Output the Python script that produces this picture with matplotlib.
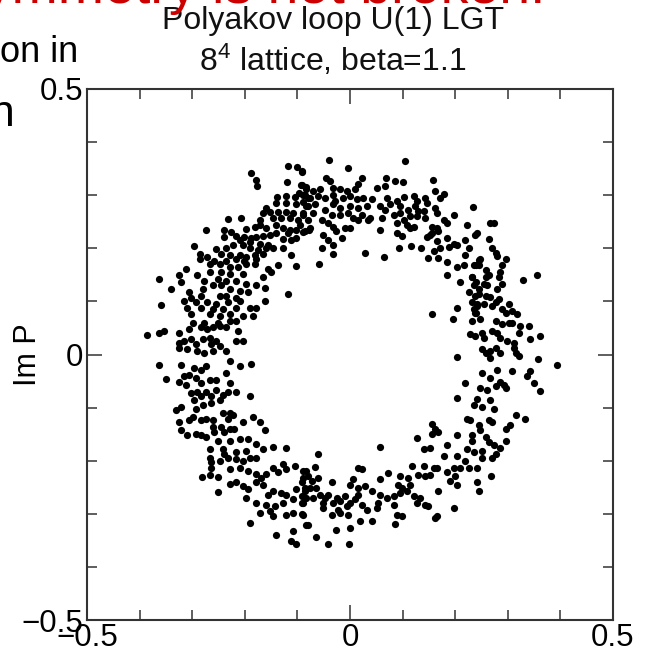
import numpy as np
import matplotlib
matplotlib.use("Agg")
import matplotlib.pyplot as plt

plt.rcParams['font.family'] = ['Liberation Sans', 'DejaVu Sans']
plt.rcParams['mathtext.fontset'] = 'custom'
plt.rcParams['mathtext.rm'] = 'Liberation Sans'
plt.rcParams['mathtext.it'] = 'Liberation Sans:italic'

# ---- data: (Re P, Im P) samples ----
ring_upper_left = [
    (-0.189,0.342),(-0.117,0.355),(-0.100,0.354),(-0.091,0.344),(-0.178,0.328),(-0.176,0.318),
    (-0.120,0.324),(-0.094,0.319),(-0.083,0.315),(-0.097,0.304),(-0.086,0.301),(-0.080,0.295),
    (-0.139,0.296),(-0.122,0.298),(-0.104,0.296),(-0.089,0.288),(-0.140,0.285),(-0.121,0.285),
    (-0.102,0.283),(-0.080,0.279),(-0.159,0.276),(-0.153,0.269),(-0.166,0.266),(-0.137,0.269),
    (-0.121,0.269),(-0.108,0.266),(-0.089,0.266),(-0.232,0.255),(-0.207,0.257),(-0.172,0.253),
    (-0.147,0.257),(-0.131,0.257),(-0.115,0.257),(-0.099,0.253),(-0.080,0.253),(-0.274,0.235),
    (-0.239,0.235),(-0.226,0.231),(-0.197,0.236),(-0.181,0.241),(-0.172,0.244),(-0.159,0.238),
    (-0.140,0.244),(-0.127,0.238),(-0.115,0.234),(-0.102,0.234),(-0.089,0.231),(-0.077,0.234),
    (-0.239,0.222),(-0.216,0.224),(-0.201,0.222),(-0.188,0.220),(-0.178,0.222),(-0.166,0.224),
    (-0.153,0.225),(-0.140,0.228),(-0.118,0.228),(-0.102,0.219),(-0.210,0.215),(-0.191,0.212),
    (-0.172,0.209),(-0.156,0.206),(-0.127,0.217),(-0.112,0.215),(-0.296,0.204),(-0.255,0.198),
    (-0.236,0.200),(-0.223,0.206),(-0.204,0.206),(-0.191,0.200),(-0.175,0.196),(-0.159,0.200),
    (-0.147,0.200),(-0.127,0.200),(-0.286,0.190),(-0.271,0.184),(-0.245,0.190),(-0.229,0.187),
    (-0.210,0.187),(-0.197,0.184),(-0.181,0.187),(-0.166,0.190),(-0.112,0.188),(-0.286,0.180),
    (-0.258,0.177),(-0.236,0.177),(-0.216,0.180),(-0.201,0.177),(-0.178,0.180),(-0.102,0.166),
    (-0.312,0.161),(-0.267,0.171),(-0.248,0.171),(-0.229,0.165),(-0.213,0.165),(-0.197,0.171),
    (-0.181,0.171),(-0.156,0.161),(-0.137,0.169),(-0.325,0.149),(-0.290,0.149),(-0.267,0.155),
    (-0.245,0.155),(-0.229,0.152),(-0.204,0.152),(-0.150,0.155),(-0.363,0.142),(-0.321,0.137),
    (-0.277,0.139),(-0.251,0.142),(-0.236,0.139),(-0.216,0.139),(-0.197,0.133),(-0.166,0.146),
    (-0.178,0.130),(-0.340,0.123),(-0.306,0.117),(-0.280,0.123),(-0.261,0.130),(-0.245,0.130),
    (-0.229,0.123),(-0.210,0.120),(-0.194,0.117),(-0.162,0.126),(-0.118,0.113),(-0.302,0.107),
    (-0.283,0.111),(-0.248,0.111),(-0.236,0.111),(-0.216,0.107),(-0.360,0.093),(-0.315,0.101),
    (-0.293,0.098),(-0.271,0.098),(-0.255,0.095),(-0.232,0.098),(-0.210,0.101),(-0.162,0.101),
    (-0.309,0.088),(-0.283,0.088),(-0.261,0.085),(-0.242,0.085),(-0.216,0.088),(-0.191,0.088),
    (-0.178,0.088),(-0.302,0.076),(-0.267,0.076),(-0.248,0.073),(-0.229,0.076),(-0.204,0.073),
    (-0.185,0.073),(-0.299,0.060),(-0.277,0.060),(-0.251,0.060),(-0.229,0.063),(-0.216,0.063),
]

ring_upper_right = [
    (-0.039,0.367),(-0.004,0.352),(0.104,0.365),(-0.092,0.346),(-0.045,0.333),(-0.038,0.327),
    (0.022,0.333),(0.016,0.322),(0.069,0.332),(0.086,0.327),(0.100,0.324),(0.157,0.328),
    (-0.092,0.320),(-0.083,0.311),(-0.070,0.308),(-0.057,0.311),(-0.032,0.314),(-0.019,0.311),
    (-0.006,0.308),(0.010,0.311),(0.051,0.313),(0.067,0.317),(0.162,0.308),(0.178,0.303),
    (0.172,0.295),(-0.089,0.301),(-0.076,0.295),(-0.060,0.298),(-0.048,0.295),(-0.032,0.301),
    (-0.029,0.289),(-0.013,0.295),(0.000,0.298),(0.013,0.292),(0.025,0.295),(0.041,0.292),
    (0.070,0.295),(0.076,0.283),(0.089,0.289),(0.102,0.296),(0.121,0.298),(0.127,0.289),
    (0.143,0.295),(0.146,0.286),(-0.083,0.279),(-0.067,0.283),(-0.048,0.273),(-0.032,0.283),
    (-0.019,0.276),(0.000,0.279),(0.016,0.276),(0.032,0.279),(0.057,0.279),(0.067,0.273),
    (0.095,0.279),(0.111,0.273),(0.124,0.279),(0.130,0.270),(0.162,0.276),(0.165,0.267),
    (0.233,0.278),(-0.089,0.263),(-0.070,0.267),(-0.054,0.254),(-0.035,0.263),(-0.019,0.263),
    (-0.003,0.267),(0.006,0.257),(0.022,0.263),(0.038,0.257),(0.060,0.257),(0.083,0.263),
    (0.095,0.267),(0.102,0.254),(0.114,0.260),(0.127,0.260),(0.140,0.270),(0.143,0.257),
    (0.178,0.254),(0.184,0.248),(0.197,0.263),(-0.095,0.244),(-0.076,0.238),(-0.041,0.248),
    (-0.032,0.241),(-0.010,0.238),(0.016,0.254),(0.035,0.254),(0.089,0.248),(0.108,0.244),
    (0.121,0.241),(0.156,0.241),(0.165,0.238),(0.222,0.244),(0.242,0.228),(0.057,0.235),
    (0.089,0.228),(0.099,0.224),(0.114,0.238),(0.146,0.222),(0.156,0.228),(0.168,0.232),
    (0.184,0.219),(0.197,0.209),(-0.086,0.232),(-0.051,0.225),(-0.026,0.232),(-0.016,0.219),
    (0.000,0.238),(-0.041,0.216),(-0.032,0.206),(-0.054,0.200),(-0.032,0.190),(-0.059,0.171),
    (0.029,0.192),(0.064,0.183),(0.093,0.200),(0.116,0.204),(0.135,0.200),(0.153,0.225),
    (0.165,0.213),(0.172,0.200),(0.188,0.203),(0.203,0.206),(0.219,0.216),(0.226,0.200),
    (0.219,0.187),(0.149,0.181),(0.159,0.194),(0.168,0.181),(0.184,0.175),(0.203,0.165),
    (0.216,0.168),(0.235,0.168),(0.245,0.178),(0.238,0.225),(0.184,0.149),(0.210,0.136),
    (0.232,0.146),(0.235,0.130),(0.226,0.117),(0.238,0.111),(0.245,0.124),(0.232,0.098),
    (0.242,0.092),(0.235,0.086),(0.203,0.087),(0.238,0.078),(0.156,0.077),(0.196,0.067),
    (0.232,0.063),
    (0.267,0.248),(0.274,0.248),(0.265,0.218),(0.270,0.200),(0.277,0.192),(0.280,0.186),
    (0.296,0.179),(0.289,0.168),(0.248,0.179),(0.239,0.169),(0.245,0.168),(0.258,0.159),
    (0.264,0.149),(0.258,0.146),(0.286,0.156),(0.283,0.146),(0.328,0.141),(0.356,0.150),
    (0.232,0.146),(0.239,0.136),(0.254,0.133),(0.261,0.130),(0.289,0.133),(0.245,0.114),
    (0.258,0.111),(0.267,0.108),(0.280,0.124),(0.283,0.105),(0.242,0.095),(0.254,0.095),
    (0.270,0.092),(0.277,0.098),(0.302,0.095),(0.239,0.079),(0.289,0.086),(0.296,0.079),
    (0.308,0.082),(0.318,0.076),(0.248,0.067),(0.277,0.063),(0.289,0.057),(0.302,0.060),
    (0.308,0.060),(0.324,0.054),(0.340,0.054),
]

ring_lower_right = [
    (0.229,0.038),(0.238,0.035),(0.251,0.041),(0.254,0.032),(0.270,0.044),(0.280,0.041),
    (0.286,0.032),(0.299,0.025),(0.312,0.022),(0.321,0.041),(0.343,0.029),(0.361,0.034),
    (0.251,0.010),(0.258,0.003),(0.267,0.006),(0.267,-0.006),(0.277,0.013),(0.286,0.003),
    (0.312,0.013),(0.315,0.003),(0.321,-0.003),(0.203,-0.005),(0.357,-0.008),(0.393,-0.019),
    (0.251,-0.035),(0.280,-0.029),(0.267,-0.044),(0.286,-0.051),(0.292,-0.057),(0.308,-0.032),
    (0.343,-0.032),(0.337,-0.041),(0.350,-0.054),(0.362,-0.069),(0.218,-0.053),(0.248,-0.064),
    (0.261,-0.067),(0.277,-0.060),(0.296,-0.064),(0.203,-0.081),(0.242,-0.083),(0.251,-0.098),
    (0.267,-0.086),(0.273,-0.102),(0.235,-0.095),(0.223,-0.121),(0.229,-0.124),(0.245,-0.133),
    (0.264,-0.124),(0.270,-0.127),(0.296,-0.140),(0.305,-0.133),(0.315,-0.113),(0.332,-0.122),
    (0.156,-0.130),(0.162,-0.140),(0.168,-0.146),(0.156,-0.149),(0.127,-0.157),(0.203,-0.151),
    (0.232,-0.152),(0.232,-0.162),(0.248,-0.143),(0.258,-0.156),(0.264,-0.165),(0.273,-0.171),
    (0.296,-0.162),(0.286,-0.177),(0.057,-0.174),(0.140,-0.178),(0.153,-0.177),(0.184,-0.171),
    (0.222,-0.178),(0.235,-0.184),(0.251,-0.181),(0.277,-0.187),(-0.060,-0.187),(0.178,-0.191),
    (0.203,-0.191),(0.219,-0.200),(0.251,-0.194),(0.270,-0.194),(0.159,-0.213),(0.140,-0.210),
    (0.118,-0.210),(0.016,-0.213),(-0.067,-0.211),(0.022,-0.216),(0.073,-0.224),(0.095,-0.229),
    (0.111,-0.232),(0.130,-0.226),(0.143,-0.229),(0.153,-0.226),(0.165,-0.213),(0.184,-0.222),
    (0.197,-0.213),(0.200,-0.229),(0.210,-0.213),(0.226,-0.213),(0.242,-0.213),(0.191,-0.238),
    (0.203,-0.245),(0.242,-0.241),(0.245,-0.257),(0.269,-0.229),(0.057,-0.235),(0.006,-0.235),
    (0.092,-0.245),(0.099,-0.251),(0.114,-0.245),(0.168,-0.257),(0.197,-0.289),(0.000,-0.245),
    (0.016,-0.251),(0.029,-0.248),(0.041,-0.257),(0.057,-0.264),(0.070,-0.270),(0.083,-0.267),
    (0.095,-0.260),(0.108,-0.257),(0.121,-0.267),(0.133,-0.270),(0.149,-0.286),(0.127,-0.280),
    (0.143,-0.283),(0.054,-0.280),(0.051,-0.289),(0.032,-0.292),(0.022,-0.283),(0.016,-0.264),
    (0.010,-0.273),(0.000,-0.280),(-0.003,-0.302),(0.041,-0.314),(0.083,-0.283),(0.089,-0.302),
    (0.099,-0.305),(0.165,-0.305),(0.162,-0.308),(0.019,-0.314),(0.086,-0.319),(0.000,-0.327),
    (-0.026,-0.330),(-0.064,-0.343),(-0.041,-0.356),(-0.001,-0.356),(-0.080,-0.321),(-0.092,-0.300),
    (-0.083,-0.219),(-0.089,-0.232),(-0.080,-0.229),(-0.073,-0.238),(-0.086,-0.251),(-0.076,-0.251),
    (-0.064,-0.251),(-0.060,-0.232),(-0.057,-0.264),(-0.048,-0.270),(-0.051,-0.279),(-0.041,-0.264),
    (-0.035,-0.241),(-0.032,-0.279),(-0.025,-0.270),(-0.019,-0.276),(-0.010,-0.267),(-0.006,-0.286),
    (-0.022,-0.292),(-0.035,-0.302),(-0.019,-0.298),(-0.089,-0.279),(-0.092,-0.267),(-0.070,-0.270),
    (-0.051,-0.289),
]

ring_lower_left = [
    (-0.385,0.037),(-0.363,0.041),(-0.353,0.044),(-0.325,0.041),(-0.306,0.048),(-0.283,0.051),
    (-0.271,0.048),(-0.261,0.051),(-0.248,0.054),(-0.236,0.051),(-0.213,0.044),(-0.204,0.025),
    (-0.216,0.025),(-0.325,0.022),(-0.315,0.025),(-0.302,0.029),(-0.293,0.019),(-0.280,0.029),
    (-0.267,0.032),(-0.264,0.019),(-0.255,0.025),(-0.248,0.016),(-0.236,0.006),(-0.325,0.013),
    (-0.309,0.010),(-0.290,0.006),(-0.277,0.003),(-0.261,0.006),(-0.363,-0.019),(-0.321,-0.019),
    (-0.296,-0.025),(-0.283,-0.029),(-0.274,-0.022),(-0.229,-0.013),(-0.210,-0.021),(-0.188,-0.017),
    (-0.236,-0.035),(-0.350,-0.046),(-0.325,-0.051),(-0.315,-0.041),(-0.306,-0.038),(-0.293,-0.044),
    (-0.283,-0.054),(-0.267,-0.048),(-0.255,-0.048),(-0.229,-0.054),(-0.312,-0.057),(-0.302,-0.073),
    (-0.290,-0.070),(-0.283,-0.079),(-0.274,-0.070),(-0.264,-0.079),(-0.255,-0.067),(-0.248,-0.086),
    (-0.242,-0.076),(-0.232,-0.070),(-0.216,-0.070),(-0.191,-0.079),(-0.296,-0.086),(-0.280,-0.095),
    (-0.264,-0.092),(-0.331,-0.105),(-0.321,-0.098),(-0.293,-0.102),(-0.325,-0.127),(-0.306,-0.124),
    (-0.299,-0.117),(-0.283,-0.124),(-0.274,-0.121),(-0.261,-0.124),(-0.242,-0.111),(-0.229,-0.111),
    (-0.232,-0.121),(-0.223,-0.114),(-0.204,-0.127),(-0.185,-0.117),(-0.172,-0.127),(-0.162,-0.142),
    (-0.321,-0.143),(-0.309,-0.152),(-0.293,-0.149),(-0.283,-0.152),(-0.274,-0.156),(-0.261,-0.137),
    (-0.258,-0.146),(-0.245,-0.137),(-0.239,-0.146),(-0.229,-0.140),(-0.220,-0.140),(-0.251,-0.162),
    (-0.229,-0.162),(-0.210,-0.159),(-0.194,-0.159),(-0.178,-0.168),(-0.166,-0.178),(-0.146,-0.175),
    (-0.121,-0.177),(-0.267,-0.178),(-0.242,-0.178),(-0.239,-0.187),(-0.216,-0.184),(-0.197,-0.181),
    (-0.191,-0.194),(-0.232,-0.194),(-0.267,-0.194),(-0.264,-0.203),(-0.264,-0.213),(-0.267,-0.226),
    (-0.248,-0.200),(-0.216,-0.197),(-0.204,-0.200),(-0.178,-0.194),(-0.229,-0.216),(-0.210,-0.213),
    (-0.194,-0.219),(-0.281,-0.230),(-0.251,-0.230),(-0.229,-0.243),(-0.216,-0.241),(-0.204,-0.248),
    (-0.194,-0.254),(-0.178,-0.225),(-0.169,-0.232),(-0.159,-0.225),(-0.147,-0.213),(-0.137,-0.222),
    (-0.127,-0.206),(-0.121,-0.216),(-0.105,-0.210),(-0.089,-0.219),(-0.251,-0.259),(-0.197,-0.270),
    (-0.178,-0.241),(-0.166,-0.245),(-0.156,-0.264),(-0.147,-0.257),(-0.131,-0.260),(-0.121,-0.264),
    (-0.102,-0.254),(-0.092,-0.241),(-0.086,-0.257),(-0.178,-0.279),(-0.159,-0.283),(-0.143,-0.286),
    (-0.127,-0.279),(-0.108,-0.273),(-0.092,-0.279),(-0.083,-0.270),(-0.172,-0.298),(-0.153,-0.295),
    (-0.147,-0.305),(-0.121,-0.302),(-0.108,-0.298),(-0.089,-0.302),(-0.191,-0.318),(-0.140,-0.340),
    (-0.108,-0.333),(-0.112,-0.352),(-0.102,-0.356),(-0.083,-0.321),
]

x_ticks_major = [-0.5, 0.0, 0.5]
y_ticks_major = [-0.5, 0.0, 0.5]
tick_labels = ["\u22120.5", "0", "0.5"]
title_line1 = "Polyakov loop U(1) LGT"
title_line2 = r"8$^4$ lattice, beta=1.1"
y_label = "Im P"

samples = ring_upper_left + ring_upper_right + ring_lower_right + ring_lower_left
re_P = np.array([p[0] for p in samples])
im_P = np.array([p[1] for p in samples])

W, H = 652, 653
fig = plt.figure(figsize=(W / 100, H / 100), dpi=100)
ax = fig.add_axes([87 / W, 1 - 620 / H, 526 / W, 531 / H])

ax.scatter(re_P, im_P, s=27, c="black", linewidths=0, zorder=3)

ax.set_xlim(-0.5, 0.5)
ax.set_ylim(-0.5, 0.5)
ax.set_xticks(x_ticks_major)
ax.set_yticks(y_ticks_major)
ax.set_xticklabels(tick_labels)
ax.set_yticklabels(tick_labels)
ax.set_xticks(np.arange(-0.4, 0.45, 0.1), minor=True)
ax.set_yticks(np.arange(-0.4, 0.45, 0.1), minor=True)
ax.tick_params(which="both", direction="in", top=True, right=True, width=1.1, color="#333333")
ax.tick_params(which="major", length=11, labelsize=22.5, pad=3)
ax.tick_params(which="minor", length=7.5)
ax.tick_params(axis="x", which="major", pad=2)
for sp in ax.spines.values():
    sp.set_linewidth(1.5)
    sp.set_color("#333333")

ax.set_ylabel(y_label, fontsize=22)
ax.yaxis.set_label_coords(-(87 - 43) / 526, 0.5)

fig.text(333 / W, 1 - 29 / H, title_line1, ha="center", va="baseline", fontsize=23, color="#111111")
fig.text(333 / W, 1 - 71 / H, title_line2, ha="center", va="baseline", fontsize=23, color="#111111")

# fragments of the surrounding slide text
fig.text(545 / W, 1 - 3 / H, "symmetry is not broken!", ha="right", va="baseline",
         fontsize=40, color="#cc0000")
fig.text(78 / W, 1 - 62 / H, "on in", ha="right", va="baseline", fontsize=26, color="black")
fig.text(15 / W, 1 - 126 / H, "n", ha="right", va="baseline", fontsize=32, color="black")

fig.savefig("out.png", dpi=100)
